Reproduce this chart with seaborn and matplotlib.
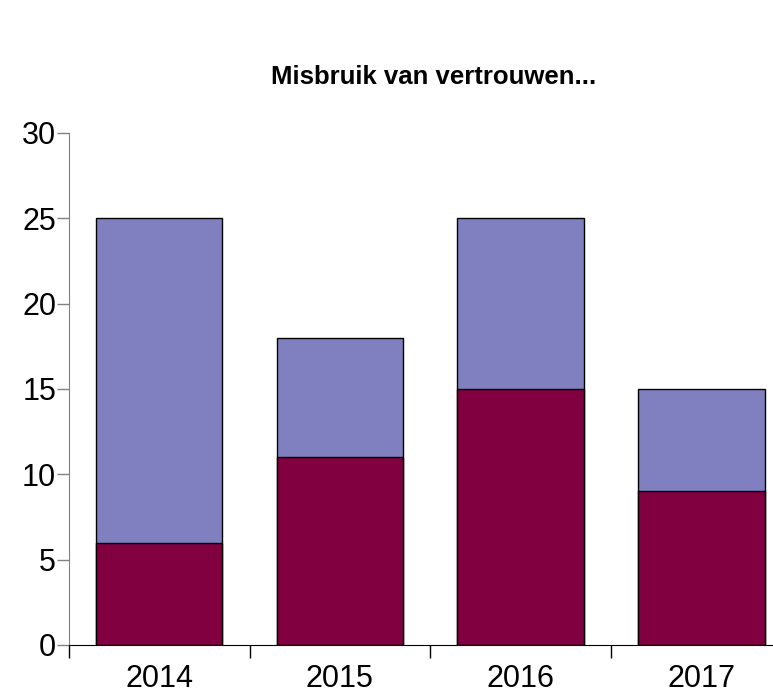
import numpy as np
import pandas as pd
import seaborn as sns
import matplotlib.pyplot as plt
from matplotlib.ticker import FixedLocator

years = ['2014', '2015', '2016', '2017']
bottom_part = [6, 11, 15, 9]
top_part = [19, 7, 10, 6]
totals = [b + t for b, t in zip(bottom_part, top_part)]

df = pd.DataFrame({'year': years, 'bottom': bottom_part, 'total': totals})

sns.set_style('white')
plt.rcParams['font.family'] = ['Liberation Sans', 'DejaVu Sans']
plt.rcParams['text.color'] = 'black'
plt.rcParams['xtick.color'] = 'black'
plt.rcParams['ytick.color'] = 'black'

fig = plt.figure(figsize=(7.73, 6.93), dpi=100)
ax = fig.add_axes([68.7 / 773, 1 - 645 / 693, (792 - 68.7) / 773, (645 - 133) / 693])

sns.barplot(data=df, x='year', y='total', color='#8080C0', saturation=1,
            width=0.7, edgecolor='black', linewidth=1, ax=ax)
sns.barplot(data=df, x='year', y='bottom', color='#800040', saturation=1,
            width=0.7, edgecolor='black', linewidth=1, ax=ax)

ax.set_xlim(-0.5, 3.5)
ax.set_ylim(0, 30)
ax.set_yticks([0, 5, 10, 15, 20, 25, 30])
ax.set_xlabel('')
ax.set_ylabel('')

for side in ['top', 'right']:
    ax.spines[side].set_visible(False)
ax.spines['left'].set_color('#808080')
ax.spines['bottom'].set_color('black')

# tick lengths are in points: 12 px ~ 8.6 pt
ax.tick_params(axis='y', which='major', direction='out', length=8.6, width=1,
               color='#808080', labelcolor='black', labelsize=22, pad=0.5, left=True)
ax.tick_params(axis='x', which='major', length=0, labelsize=22, labelcolor='black', pad=14)
ax.xaxis.set_minor_locator(FixedLocator([-0.5, 0.5, 1.5, 2.5]))
ax.tick_params(axis='x', which='minor', direction='out', length=9.4, width=1,
               color='black', bottom=True)
ax.get_xaxis().get_minor_ticks()[0].tick1line.set_color('#808080')

fig.text(434 / 773, 1 - 77 / 693, 'Misbruik van vertrouwen...', ha='center',
         va='center', fontsize=18.5, fontweight='bold', color='black')

plt.savefig('out.png', dpi=100)
